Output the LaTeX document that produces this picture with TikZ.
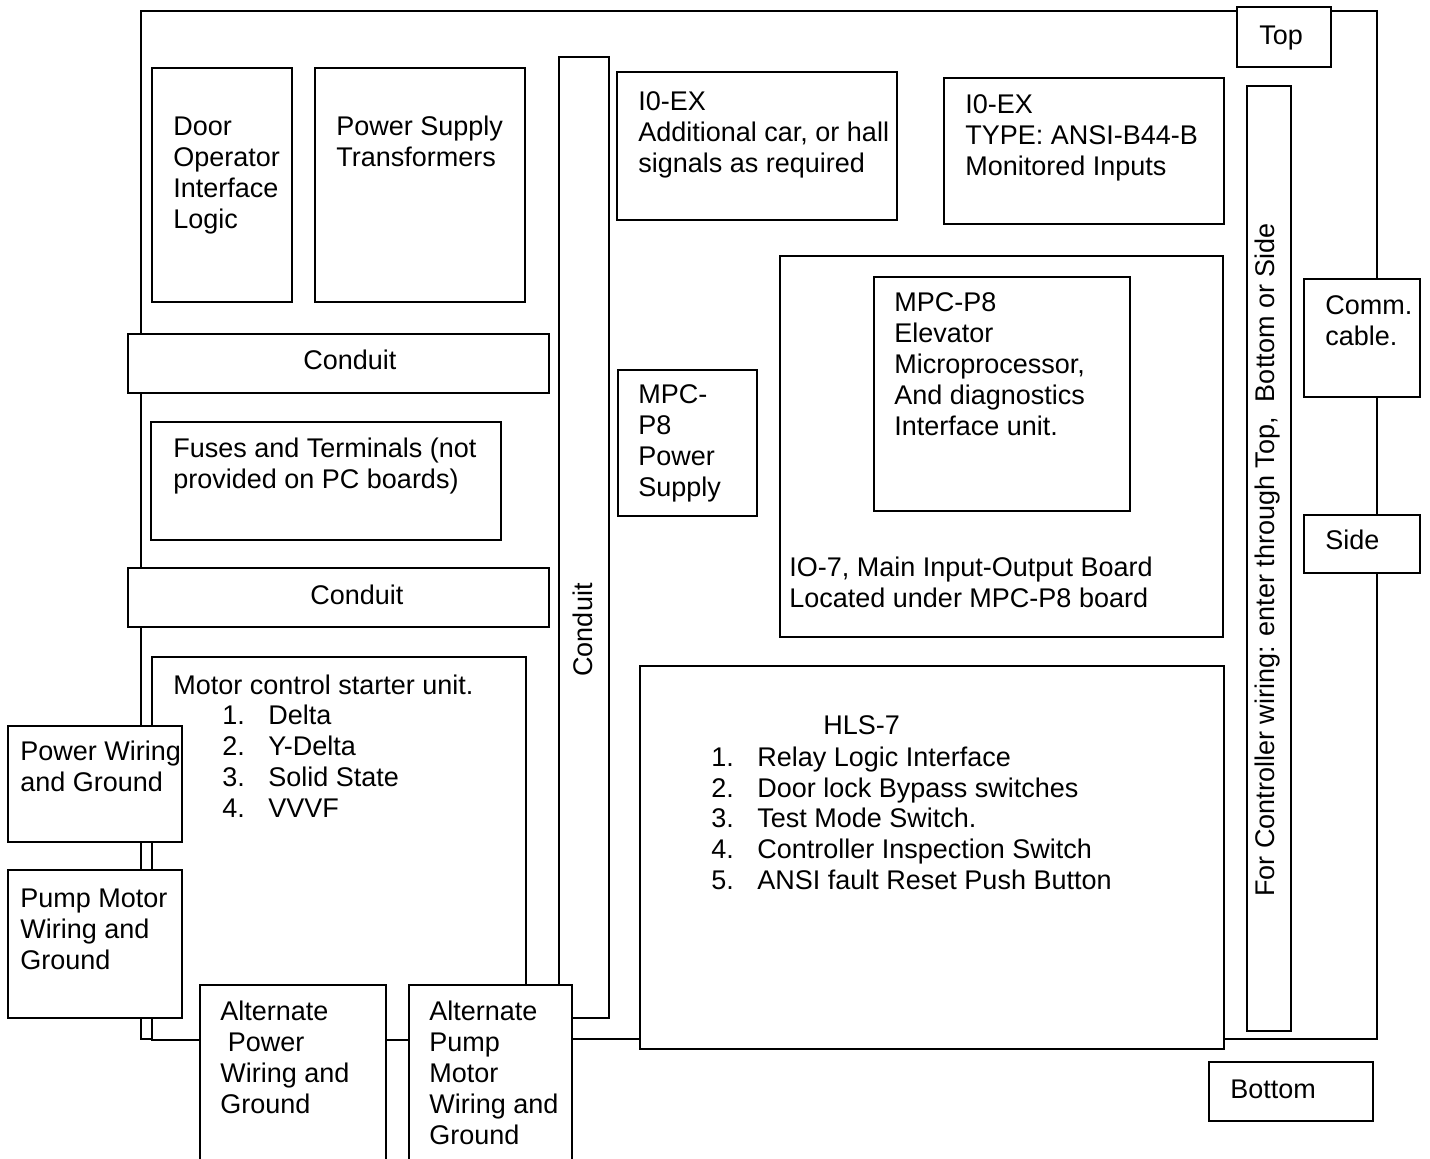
\documentclass[tikz,border=0pt]{standalone}
\usepackage{fontspec}
\setmainfont{Liberation Sans}
\newcommand{\itm}[2]{\makebox[23pt][l]{#1}#2}

\begin{document}
\begin{tikzpicture}[x=0.5pt,y=-0.5pt]
		\tikzset{frame/.style={draw, line width=1.4pt}}
		\tikzset{box/.style={draw, fill=white, line width=.9pt}}
		\tikzset{lbl/.style={anchor=base west, inner sep=0pt, align=left, font=\fontsize{13.5}{15.5}\selectfont}} %base = last line
		\useasboundingbox (0,0) rectangle (1430,1159);
		\clip (0,0) rectangle (1430,1159);
		% cabinet
		\draw[frame] (141,11) rectangle (1377,1039);
		\draw[box] (1237,7) rectangle (1331,67);
		\node[lbl] (top) at (1259,45) {Top};
		\draw[box] (152,68) rectangle (292,302);
		\node[lbl] (door) at (173,229) {Door\\Operator\\Interface\\Logic};
		\draw[box] (315,68) rectangle (525,302);
		\node[lbl] (psu) at (336,167) {Power Supply\\Transformers};
		\draw[box] (559,57) rectangle (609,1018);
		\node[lbl, anchor=center, rotate=90] (vcond) at (583,630) {Conduit};
		\draw[box] (617,72) rectangle (897,220);
		\node[lbl] (ioexA) at (638,173) {I0-EX\\Additional car, or hall\\signals as required};
		\draw[box] (944,78) rectangle (1224,224);
		\node[lbl] (ioexB) at (965,176) {I0-EX\\TYPE: ANSI-B44-B\\Monitored Inputs};
		\draw[box] (1247,86) rectangle (1291,1031);
		\node[lbl, anchor=center, rotate=90] (wiring) at (1268,560) {For Controller wiring: enter through Top,\ \ Bottom or Side};
		\draw[box] (1304,279) rectangle (1420,397);
		\node[lbl] (comm) at (1325,346) {Comm.\\cable.};
		\draw[box] (1304,515) rectangle (1420,573);
		\node[lbl] (side) at (1325,550) {Side};
		% main boards
		\draw[box] (780,256) rectangle (1223,637);
		\node[lbl] (io7) at (789,608) {IO-7, Main Input-Output Board\\Located under MPC-P8 board};
		\draw[box] (874,277) rectangle (1130,511);
		\node[lbl] (mpc) at (894,436) {MPC-P8\\Elevator\\Microprocessor,\\And diagnostics\\Interface unit.};
		\draw[box] (618,370) rectangle (757,516);
		\node[lbl] (mpcps) at (638,497) {MPC-\\P8\\Power\\Supply};
		\draw[box] (128,334) rectangle (549,393);
		\node[lbl] (condA) at (303,370) {Conduit};
		\draw[box] (151,422) rectangle (501,540);
		\node[lbl] (fuses) at (173,489) {Fuses and Terminals (not\\provided on PC boards)};
		\draw[box] (128,568) rectangle (549,627);
		\node[lbl] (condB) at (310,605) {Conduit};
		\draw[box] (152,657) rectangle (526,1040);
		\node[lbl] (motor) at (173,695) {Motor control starter unit.};
		\node[lbl] (motorlist) at (222,818) {\itm{1.}{Delta}\\\itm{2.}{Y-Delta}\\\itm{3.}{Solid State}\\\itm{4.}{VVVF}};
		\draw[box] (640,666) rectangle (1224,1049);
		\node[lbl] (hls) at (823,735) {HLS-7};
		\node[lbl] (hlslist) at (711,890) {\itm{1.}{Relay Logic Interface}\\\itm{2.}{Door lock Bypass switches}\\\itm{3.}{Test Mode Switch.}\\\itm{4.}{Controller Inspection Switch}\\\itm{5.}{ANSI fault Reset Push Button}};
		% field wiring
		\draw[box] (8,726) rectangle (182,842);
		\node[lbl] (pwr) at (20,792) {Power Wiring\\and Ground};
		\draw[box] (8,870) rectangle (182,1018);
		\node[lbl] (pump) at (20,969) {Pump Motor\\Wiring and\\Ground};
		\draw[box] (200,985) rectangle (386,1170);
		\node[lbl] (altpwr) at (220,1113) {Alternate\\\ Power\\Wiring and\\Ground};
		\draw[box] (409,985) rectangle (572,1170);
		\node[lbl] (altpump) at (429,1144) {Alternate\\Pump\\Motor\\Wiring and\\Ground};
		\draw[box] (1209,1062) rectangle (1373,1121);
		\node[lbl] (bottom) at (1230,1098) {Bottom};
\end{tikzpicture}
\end{document}
